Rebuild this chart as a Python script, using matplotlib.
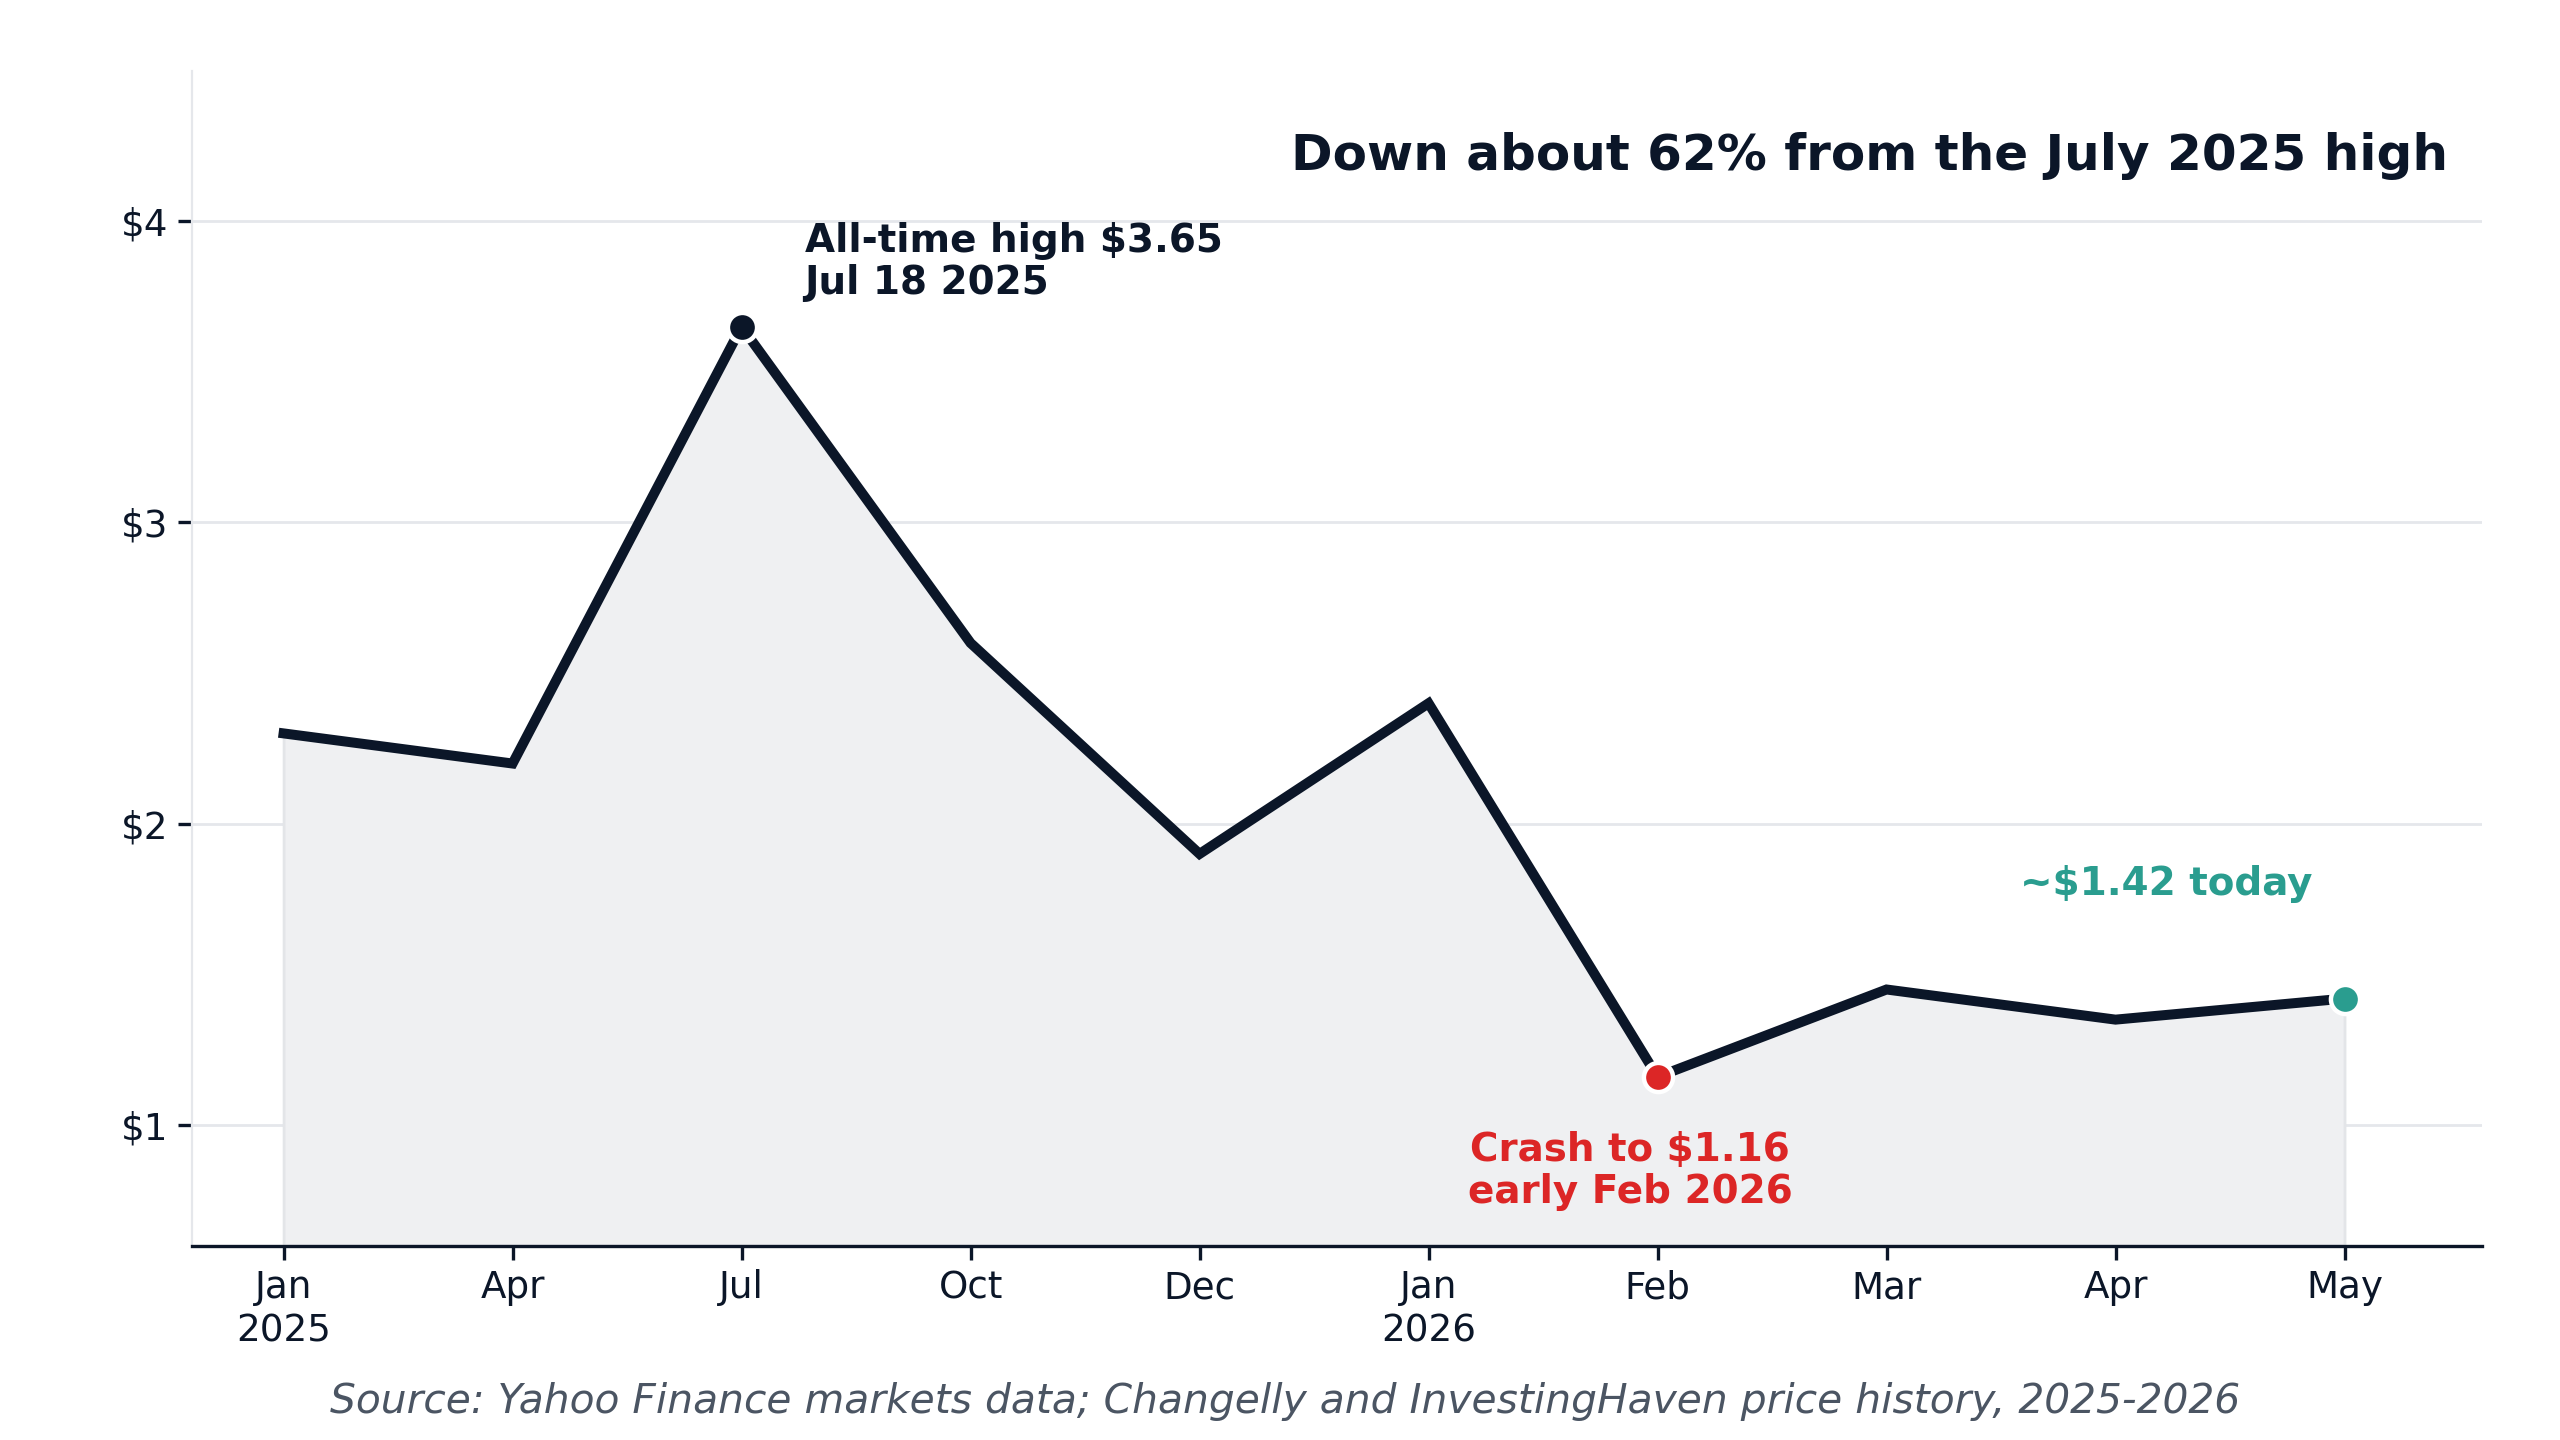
import matplotlib
matplotlib.use("Agg")
import matplotlib.pyplot as plt

labels = ["Jan\n2025", "Apr", "Jul", "Oct", "Dec", "Jan\n2026", "Feb", "Mar", "Apr", "May"]
prices = [2.30, 2.20, 3.65, 2.60, 1.90, 2.40, 1.16, 1.45, 1.35, 1.42]
yticks = [1, 2, 3, 4]
ytick_labels = ["$1", "$2", "$3", "$4"]

NAVY = "#0b1628"
RED = "#dc2626"
TEAL = "#2a9d8f"
GRID = "#e5e7eb"

plt.rcParams['font.family'] = ['DejaVu Sans']
fig = plt.figure(figsize=(12.8, 7.2), dpi=200)
ax = fig.add_axes([0.075, 0.135, 0.8945, 0.816])

x = list(range(len(prices)))
ax.fill_between(x, prices, 0.6, color="#eff0f2", edgecolor="#e3e5e8", linewidth=1.0, zorder=1)
ax.plot(x, prices, color=NAVY, linewidth=3.6, zorder=3, solid_joinstyle="miter")

ax.scatter([2], [prices[2]], s=110, color=NAVY, edgecolor="white", linewidth=1.6, zorder=4)
ax.scatter([6], [prices[6]], s=110, color=RED, edgecolor="white", linewidth=1.6, zorder=4)
ax.scatter([9], [prices[9]], s=110, color=TEAL, edgecolor="white", linewidth=1.6, zorder=4)

ax.set_xlim(-0.4, 9.6)
ax.set_ylim(0.6, 4.5)
ax.set_xticks(x)
ax.set_xticklabels(labels)
ax.set_yticks(yticks)
ax.set_yticklabels(ytick_labels)
ax.yaxis.grid(True, color=GRID, linewidth=1.0, zorder=0)
ax.set_axisbelow(True)

for s in ["top", "right"]:
    ax.spines[s].set_visible(False)
ax.spines["left"].set_color("#e5e7eb")
ax.spines["left"].set_linewidth(0.8)
ax.spines["bottom"].set_color(NAVY)
ax.spines["bottom"].set_linewidth(1.2)
ax.tick_params(axis="both", colors=NAVY, labelsize=13.4, length=5, width=1.2)

ax.text(9.45, 4.215, "Down about 62% from the July 2025 high", ha="right", va="center",
        fontsize=18, fontweight="bold", color=NAVY)
ax.text(2.275, 3.864, "All-time high $3.65\nJul 18 2025", ha="left", va="center",
        fontsize=14, fontweight="bold", color=NAVY, linespacing=1.15)
ax.text(5.88, 0.848, "Crash to $1.16\nearly Feb 2026", ha="center", va="center",
        fontsize=14, fontweight="bold", color=RED, linespacing=1.15)
ax.text(8.22, 1.80, "~$1.42 today", ha="center", va="center",
        fontsize=14, fontweight="bold", color=TEAL)

fig.text(0.502, 0.027, "Source: Yahoo Finance markets data; Changelly and InvestingHaven price history, 2025-2026",
         ha="center", va="center", fontsize=14.7, style="italic", color="#4b5563")

fig.savefig("out.png", dpi=200, facecolor="white")
